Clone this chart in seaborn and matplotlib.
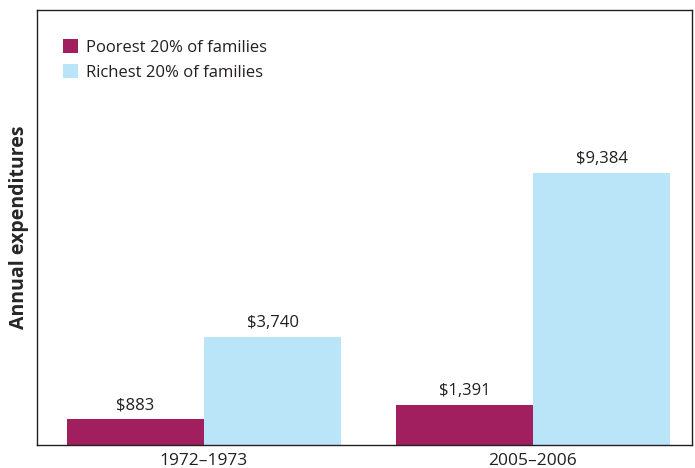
import pandas as pd
import seaborn as sns
import matplotlib.pyplot as plt

periods = ['1972–1973', '2005–2006']
groups = ['Poorest 20% of families', 'Richest 20% of families']
poorest = [883, 1391]
richest = [3740, 9384]
colors = ['#A11F5E', '#BAE4F8']

data = pd.DataFrame({
    'period': periods * 2,
    'group': [groups[0]] * 2 + [groups[1]] * 2,
    'value': poorest + richest,
})

sns.set_style('white')
plt.rcParams['font.family'] = ['Open Sans', 'DejaVu Sans']

fig = plt.figure(figsize=(6.95, 4.68), dpi=100)
ax = fig.add_axes([0.053, 0.049, 0.942, 0.93])
sns.barplot(data=data, x='period', y='value', hue='group', palette=colors,
            width=0.834, saturation=1, ax=ax, linewidth=0)

for cont in ax.containers:
    labels = ['${:,.0f}'.format(v) for v in cont.datavalues]
    ax.bar_label(cont, labels=labels, padding=4, fontsize=12, color='#231f20')

ax.set_ylim(0, 15000)
ax.set_xlim(-0.508, 1.482)
ax.set_yticks([])
ax.set_xlabel('')
ax.set_ylabel('Annual expenditures', fontsize=14, fontweight='bold', labelpad=6)
ax.tick_params(axis='x', labelsize=12.5, length=0, pad=6, colors='#231f20')
for s in ax.spines.values():
    s.set_color('#231f20')
    s.set_linewidth(1.0)

leg = ax.legend(loc='upper left', bbox_to_anchor=(0.04, 0.933), frameon=False,
                fontsize=12, handlelength=0.9, handleheight=0.9, borderpad=0,
                handletextpad=0.45, labelspacing=0.5, borderaxespad=0)
for t in leg.get_texts():
    t.set_color('#231f20')

fig.savefig('out.png', dpi=100)
